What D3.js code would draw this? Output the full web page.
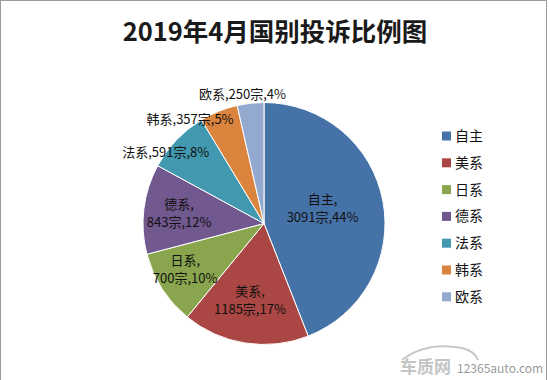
<!DOCTYPE html>
<html>
<head>
<meta charset="utf-8">
<script src="https://cdn.jsdelivr.net/npm/d3@7/dist/d3.min.js"></script>
<style>
html,body{margin:0;padding:0;background:#fff;}
svg{display:block;}
text{font-family:"Noto Sans CJK SC","Noto Sans",sans-serif;}
</style>
</head>
<body>
<svg id="chart" width="550" height="380"></svg>
<script>
const title = "2019年4月国别投诉比例图";
const categories = ["自主","美系","日系","德系","法系","韩系","欧系"];
const counts = [3091,1185,700,843,591,357,250];
const percents = ["44%","17%","10%","12%","8%","5%","4%"];
const colors = ["#4572A7","#AA4643","#89A54E","#71588F","#4198AF","#DB843D","#93A9CF"];
// label placement config: [radius factor, angle shift (deg), inside two-line?]
const labelCfg = [[0.50,-3.8,true],[0.645,1.4,true],[0.752,2.7,true],[0.707,0,true],[1.0,-8,false],[1.058,-13.3,false],[1.085,-3,false]];

const svg = d3.select("#chart");

svg.append("rect").attr("x",0.5).attr("y",0.5).attr("width",546).attr("height",390)
  .attr("fill","#fff").attr("stroke","#9a9a9a").attr("stroke-width",1);

svg.append("text").attr("x",275).attr("y",41).attr("text-anchor","middle")
  .attr("font-size",25.5).attr("font-weight","bold").attr("fill","#1a1a1a").text(title);

const cx = 264, cy = 223.5, R = 121;
const data = categories.map((c,i)=>({cat:c,value:counts[i],pct:percents[i],color:colors[i],cfg:labelCfg[i]}));
const pie = d3.pie().value(d=>d.value).sort(null);
const arcs = pie(data);
const arc = d3.arc().innerRadius(0).outerRadius(R);

const g = svg.append("g").attr("transform",`translate(${cx},${cy})`);
g.selectAll("path").data(arcs).join("path")
  .attr("d",arc).attr("fill",d=>d.data.color).attr("stroke","#fff").attr("stroke-width",1);

const lab = g.selectAll("text.lab").data(arcs).join("text").attr("class","lab")
  .attr("font-size",13).attr("fill","#111").attr("text-anchor","middle");
lab.each(function(d){
  const [k,shift,inside] = d.data.cfg;
  const a = (d.startAngle+d.endAngle)/2 + shift*Math.PI/180;
  const x = Math.sin(a)*R*k, y = -Math.cos(a)*R*k;
  const t = d3.select(this);
  if(inside){
    t.append("tspan").attr("x",x).attr("y",y-9).attr("dy","0.35em").text(d.data.cat+",");
    t.append("tspan").attr("x",x).attr("y",y+9).attr("dy","0.35em").text(d.data.value+"宗,"+d.data.pct);
  } else {
    t.append("tspan").attr("x",x).attr("y",y).attr("dy","0.35em").text(d.data.cat+","+d.data.value+"宗,"+d.data.pct);
  }
});

const legend = svg.append("g").attr("transform","translate(442,136)");
const li = legend.selectAll("g").data(data).join("g").attr("transform",(d,i)=>`translate(0,${i*26.8})`);
li.append("rect").attr("x",0).attr("y",-4.5).attr("width",9).attr("height",9).attr("fill",d=>d.color);
li.append("text").attr("x",13).attr("y",0).attr("dy","0.36em").attr("font-size",14).attr("fill","#111").text(d=>d.cat);

// watermark
const wm = svg.append("g");
wm.append("path").attr("d","M402,360 C420,346 440,344 462,348 C470,350 476,354 478,360")
  .attr("fill","none").attr("stroke","#c8c8c8").attr("stroke-width",2);
wm.append("text").attr("x",400).attr("y",373).attr("font-size",17).attr("font-weight","bold").attr("fill","#c4c4c4").text("车质网");
wm.append("text").attr("x",457).attr("y",373).attr("font-size",12).attr("fill","#9a9a9a").attr("font-family","Arial, Liberation Sans, sans-serif").text("12365auto.com");
</script>
</body>
</html>
